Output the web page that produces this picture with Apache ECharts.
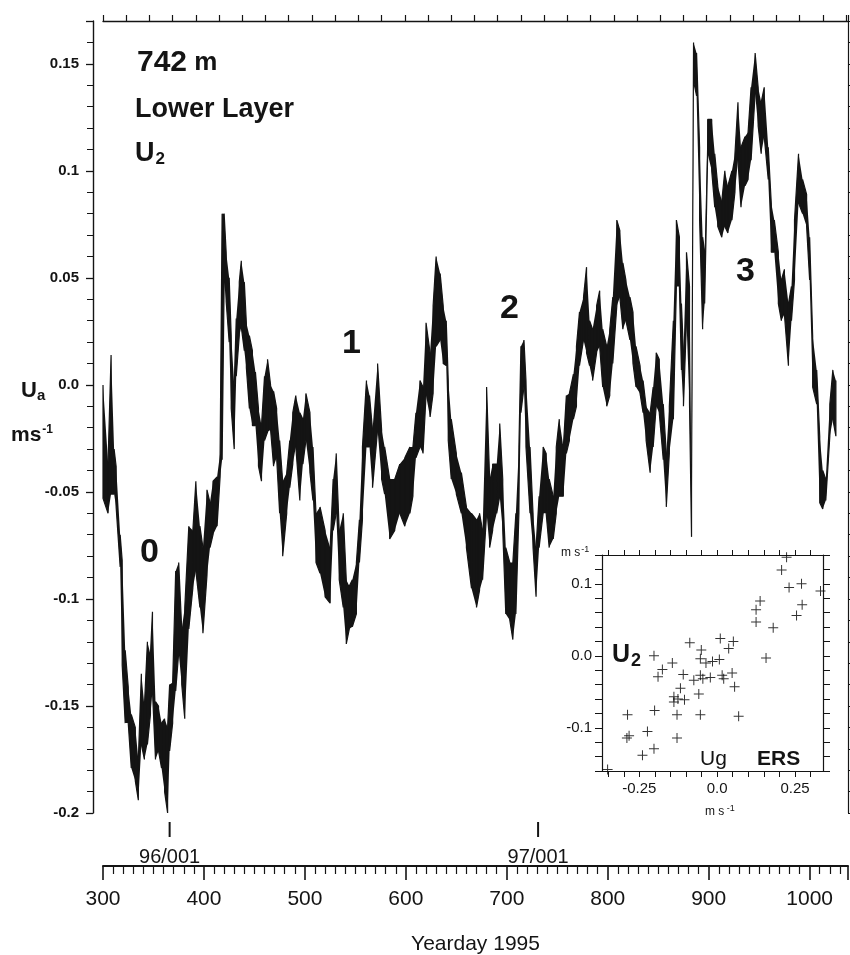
<!DOCTYPE html>
<html>
<head>
<meta charset="utf-8">
<script src="https://cdn.jsdelivr.net/npm/echarts@6.0.0/dist/echarts.min.js"></script>
<style>
  html, body { margin: 0; padding: 0; background: #fff; }
  #main { width: 850px; height: 955px; }
</style>
</head>
<body>
<div id="main"></div>
<script>
// yearday 1995 / band top and bottom of the U_a trace (m s-1)
var yearday = [300,305,308,311,313,317,319,322,325,328,332,335,338,341,344,347,349,352,355,358,
  361,364,366,369,372,375,378,381,385,389,392,396,399,403,406,409,413,416,418,420,
  422,425,427,430,432,435,437,440,442,445,448,451,454,457,460,463,466,469,472,475,
  478,482,485,488,491,495,498,501,505,508,511,515,520,525,528,531,534,538,541,544,
  547,551,554,557,561,564,567,572,576,579,584,589,594,599,604,607,610,614,617,620,
  624,627,630,634,637,640,642,645,650,655,660,665,670,673,676,680,683,686,690,693,
  696,699,703,706,709,712,714,717,719,723,726,729,732,736,739,742,746,749,752,756,
  759,762,766,769,772,776,779,782,785,789,792,795,799,802,805,809,812,815,818,822,
  825,828,832,835,838,842,845,848,851,855,858,861,865,868,871,873,875,878,881,883,
  885,888,891,894,896,899,903,906,909,913,916,919,923,926,929,932,936,939,942,946,
  949,952,955,959,962,965,969,972,975,979,982,985,989,993,997,1000,1003,1007,1010,1013,
  1016,1020,1023,1026];
var uaHigh = [0.0,-0.036,0.014,-0.03,-0.038,-0.07,-0.082,-0.124,-0.141,-0.154,-0.16,-0.175,-0.135,-0.15,-0.12,-0.126,-0.106,-0.148,-0.15,-0.158,
  -0.156,-0.16,-0.14,-0.139,-0.087,-0.083,-0.114,-0.104,-0.066,-0.068,-0.045,-0.066,-0.076,-0.049,-0.055,-0.045,-0.043,-0.032,0.08,0.08,
  0.062,0.05,0.023,0.0,0.031,0.048,0.058,0.048,0.029,0.023,0.016,0.006,-0.011,-0.019,0.004,0.012,0.0,-0.003,-0.011,-0.026,
  -0.045,-0.041,-0.026,-0.013,-0.005,-0.013,-0.016,-0.004,-0.013,-0.029,-0.06,-0.057,-0.068,-0.076,-0.044,-0.032,-0.068,-0.06,-0.091,-0.094,
  -0.091,-0.083,-0.063,-0.029,0.002,-0.005,-0.021,0.010,-0.021,-0.029,-0.044,-0.044,-0.037,-0.034,-0.029,-0.029,-0.013,0.002,-0.001,0.029,
  0.015,0.037,0.06,0.052,0.037,0.030,0.002,-0.016,-0.032,-0.041,-0.057,-0.06,-0.063,-0.06,-0.068,-0.001,-0.044,-0.037,-0.037,-0.018,
  -0.044,-0.076,-0.083,-0.083,-0.06,-0.029,0.018,0.021,0.002,-0.029,-0.06,-0.076,-0.052,-0.029,-0.032,-0.044,-0.052,-0.029,-0.016,-0.029,
  -0.005,-0.004,0.005,0.018,0.034,0.041,0.055,0.030,0.026,0.037,0.044,0.026,0.018,0.026,0.041,0.077,0.072,0.057,0.049,0.041,
  0.034,0.018,0.009,0.002,-0.010,-0.013,-0.001,0.015,0.012,-0.009,-0.032,-0.01,0.03,0.077,0.069,0.038,0.015,0.062,0.046,-0.048,
  0.16,0.155,0.111,0.069,0.062,0.124,0.124,0.108,0.093,0.086,0.100,0.093,0.100,0.108,0.132,0.111,0.116,0.118,0.139,0.155,
  0.139,0.132,0.139,0.111,0.085,0.077,0.062,0.049,0.054,0.038,0.046,0.077,0.108,0.096,0.089,0.069,0.023,0.007,-0.024,-0.04,
  -0.044,-0.009,0.007,0.002];
var uaLow = [-0.053,-0.06,-0.051,-0.051,-0.057,-0.085,-0.131,-0.158,-0.158,-0.179,-0.185,-0.194,-0.168,-0.175,-0.168,-0.154,-0.143,-0.175,-0.171,-0.179,
  -0.19,-0.20,-0.171,-0.158,-0.143,-0.125,-0.14,-0.156,-0.114,-0.095,-0.087,-0.104,-0.116,-0.089,-0.076,-0.07,-0.066,-0.043,-0.035,0.048,
  0.039,0.02,-0.011,-0.03,0.004,0.023,0.027,0.016,0.008,-0.011,-0.019,-0.019,-0.038,-0.045,-0.026,-0.022,-0.021,-0.038,-0.034,-0.06,
  -0.08,-0.06,-0.048,-0.037,-0.029,-0.054,-0.037,-0.026,-0.041,-0.054,-0.083,-0.088,-0.099,-0.102,-0.068,-0.06,-0.091,-0.104,-0.121,-0.114,
  -0.113,-0.107,-0.083,-0.063,-0.029,-0.029,-0.048,-0.021,-0.044,-0.051,-0.072,-0.068,-0.06,-0.066,-0.06,-0.052,-0.034,-0.029,-0.032,-0.005,
  -0.015,-0.004,0.018,0.021,0.010,0.009,-0.026,-0.044,-0.051,-0.06,-0.076,-0.095,-0.104,-0.096,-0.091,-0.06,-0.076,-0.068,-0.06,-0.052,
  -0.068,-0.107,-0.11,-0.119,-0.107,-0.06,-0.013,-0.001,-0.029,-0.06,-0.076,-0.099,-0.076,-0.06,-0.06,-0.076,-0.072,-0.06,-0.052,-0.052,
  -0.032,-0.026,-0.016,-0.01,0.009,0.021,0.015,0.009,0.002,0.015,0.018,-0.001,-0.010,-0.005,0.010,0.037,0.041,0.026,0.030,0.021,
  0.010,-0.001,-0.004,-0.013,-0.026,-0.041,-0.029,-0.010,-0.013,-0.035,-0.057,-0.032,-0.016,0.046,0.046,0.007,-0.01,0.030,-0.009,-0.071,
  0.142,0.135,0.077,0.026,0.038,0.108,0.100,0.083,0.074,0.069,0.074,0.071,0.077,0.090,0.105,0.083,0.093,0.096,0.105,0.136,
  0.121,0.108,0.116,0.096,0.062,0.062,0.038,0.030,0.033,0.009,0.030,0.049,0.085,0.080,0.074,0.049,-0.001,-0.009,-0.055,-0.058,
  -0.054,-0.024,-0.016,-0.024];

// inset: U2 against Ug (ERS), m s-1
var ugErs = [0.223,0.207,0.231,0.271,0.332,0.138,0.125,0.273,0.255,0.125,0.180,-0.088,0.010,0.052,0.037,-0.051,-0.203,0.157,-0.144,-0.054,
  -0.036,-0.015,0.007,-0.176,-0.190,-0.109,-0.075,-0.054,-0.046,-0.022,0.016,0.021,0.048,0.056,-0.118,-0.139,-0.126,-0.105,-0.059,-0.139,
  -0.288,-0.201,-0.129,-0.054,0.069,-0.283,-0.290,-0.224,-0.129,-0.240,-0.203,-0.352];
var u2Ers = [0.137,0.119,0.095,0.100,0.090,0.076,0.064,0.071,0.056,0.047,0.039,0.018,0.024,0.020,0.010,0.008,0.000,-0.003,-0.010,-0.004,
  -0.010,-0.008,-0.005,-0.019,-0.029,-0.026,-0.034,-0.027,-0.032,-0.030,-0.027,-0.032,-0.024,-0.043,-0.045,-0.057,-0.060,-0.061,-0.053,-0.064,
  -0.082,-0.076,-0.082,-0.082,-0.084,-0.111,-0.114,-0.105,-0.114,-0.138,-0.129,-0.158];

var insetXTicks = [-0.35,-0.3,-0.25,-0.2,-0.15,-0.1,-0.05,0,0.05,0.1,0.15,0.2,0.25,0.3];
var insetXLabels = [-0.25, 0, 0.25];
var dateMarks = [[366, '96/001'], [731, '97/001']];

// trace: vertical stroke at each reading, alternating top/bottom
var trace = [];
for (var i = 0; i < yearday.length; i++) {
  if (i % 2 == 0) {
    trace.push([yearday[i], uaHigh[i]]);
    trace.push([yearday[i], uaLow[i]]);
  } else {
    trace.push([yearday[i], uaLow[i]]);
    trace.push([yearday[i], uaHigh[i]]);
  }
}
var scatterData = [];
for (var j = 0; j < ugErs.length; j++) scatterData.push([ugErs[j], u2Ers[j]]);

var ink = '#141414';
var font = 'Liberation Sans';
var plus = 'path://M-0.1,-1H0.1V-0.1H1V0.1H0.1V1H-0.1V0.1H-1V-0.1H-0.1Z';

function fmt0(v) {
  if (Math.abs(v) < 1e-9) return '0.0';
  return String(+v.toFixed(3));
}

// filled band between top and bottom readings
function renderBand(params, api) {
  var pts = [];
  for (var k = 0; k < yearday.length; k++) pts.push(api.coord([yearday[k], uaHigh[k]]));
  for (var k2 = yearday.length - 1; k2 >= 0; k2--) pts.push(api.coord([yearday[k2], uaLow[k2]]));
  return { type: 'polygon', shape: { points: pts }, style: { fill: ink } };
}

var chart = echarts.init(document.getElementById('main'));
var option = {
  animation: false,
  backgroundColor: '#fff',
  grid: [
    { left: 103, right: 2, top: 21, height: 792, containLabel: false, outerBoundsMode: 'none' },
    { left: 602, top: 555, width: 221, height: 216, containLabel: false, outerBoundsMode: 'none',
      backgroundColor: '#fff', show: true, borderWidth: 0 }
  ],
  xAxis: [
    { type: 'value', gridIndex: 0, min: 300, max: 1038, interval: 100, position: 'bottom', offset: 53,
      axisLine: { show: true, onZero: false, lineStyle: { color: ink, width: 2 } },
      axisTick: { show: true, inside: false, length: 14, lineStyle: { color: ink, width: 1.6 } },
      minorTick: { show: true, splitNumber: 10, length: 8, lineStyle: { color: ink, width: 1.2 } },
      axisLabel: { show: true, margin: 23, fontSize: 21, fontFamily: font, color: ink,
        formatter: function (v) { return String(v); } },
      splitLine: { show: false }, minorSplitLine: { show: false },
      name: 'Yearday 1995', nameLocation: 'middle', nameGap: 68,
      nameTextStyle: { fontSize: 21, fontFamily: font, color: ink } },
    { type: 'value', gridIndex: 0, min: 299, max: 1037, interval: 23, position: 'top',
      axisLine: { show: true, onZero: false, lineStyle: { color: ink, width: 1.3 } },
      axisTick: { show: true, inside: false, length: 6, lineStyle: { color: ink, width: 1.2 } },
      axisLabel: { show: false }, splitLine: { show: false } },
    { type: 'value', gridIndex: 1, min: -0.37, max: 0.34, position: 'bottom',
      axisLine: { show: true, onZero: false, lineStyle: { color: ink, width: 1.2 } },
      axisTick: { show: true, inside: false, length: 6, customValues: insetXTicks, lineStyle: { color: ink, width: 1 } },
      axisLabel: { show: true, customValues: insetXLabels, margin: 10, fontSize: 15, fontFamily: font, color: ink, formatter: fmt0 },
      splitLine: { show: false } },
    { type: 'value', gridIndex: 1, min: -0.37, max: 0.34, position: 'top',
      axisLine: { show: true, onZero: false, lineStyle: { color: ink, width: 1.2 } },
      axisTick: { show: true, inside: false, length: 5, customValues: insetXTicks, lineStyle: { color: ink, width: 1 } },
      axisLabel: { show: false }, splitLine: { show: false } }
  ],
  yAxis: [
    { type: 'value', gridIndex: 0, min: -0.2, max: 0.17, interval: 0.05, position: 'left', offset: 10,
      axisLine: { show: true, onZero: false, lineStyle: { color: ink, width: 1.4 } },
      axisTick: { show: true, inside: false, length: 7, lineStyle: { color: ink, width: 1.3 } },
      minorTick: { show: true, splitNumber: 5, length: 6, lineStyle: { color: ink, width: 1 } },
      axisLabel: { show: true, showMaxLabel: false, margin: 14, fontSize: 15, fontWeight: 'bold', fontFamily: font, color: ink,
        formatter: function (v) { return v > 0.16 ? '' : fmt0(v); } },
      splitLine: { show: false }, minorSplitLine: { show: false } },
    { type: 'value', gridIndex: 0, min: -0.2, max: 0.17, interval: 0.01, position: 'right',
      axisLine: { show: true, onZero: false, lineStyle: { color: ink, width: 1.2 } },
      axisTick: { show: true, inside: false, length: 4, lineStyle: { color: ink, width: 1 } },
      axisLabel: { show: false }, splitLine: { show: false } },
    { type: 'value', gridIndex: 1, min: -0.16, max: 0.14, interval: 0.02, position: 'left',
      axisLine: { show: true, onZero: false, lineStyle: { color: ink, width: 1.2 } },
      axisTick: { show: true, inside: false, length: 7, lineStyle: { color: ink, width: 1 } },
      axisLabel: { show: true, interval: 0, margin: 10, fontSize: 15, fontFamily: font, color: ink,
        formatter: function (v) {
          var r = Math.round(v * 100);
          if (r == 10 || r == 0 || r == -10) return fmt0(r / 100);
          return '';
        } },
      splitLine: { show: false } },
    { type: 'value', gridIndex: 1, min: -0.16, max: 0.14, interval: 0.02, position: 'right',
      axisLine: { show: true, onZero: false, lineStyle: { color: ink, width: 1.2 } },
      axisTick: { show: true, inside: false, length: 7, lineStyle: { color: ink, width: 1 } },
      axisLabel: { show: false }, splitLine: { show: false } }
  ],
  series: [
    { type: 'custom', coordinateSystem: 'cartesian2d', xAxisIndex: 0, yAxisIndex: 0, data: [[300, 0]],
      renderItem: renderBand, silent: true },
    { type: 'line', xAxisIndex: 0, yAxisIndex: 0, data: trace, showSymbol: false, symbol: 'none',
      lineStyle: { color: ink, width: 1.2 }, silent: true },
    { type: 'scatter', xAxisIndex: 2, yAxisIndex: 2, data: scatterData, symbol: plus, symbolSize: 10,
      itemStyle: { color: '#000' }, silent: true }
  ]
};
chart.setOption(option);

// text annotations and date markers
var graphics = [
  { type: 'text', left: 137, top: 48, style: { text: '{a|742}{m| m}', rich: {
      a: { fontSize: 30, fontWeight: 'bold', fontFamily: font, fill: ink },
      m: { fontSize: 26, fontWeight: 'bold', fontFamily: font, fill: ink } } } },
  { type: 'text', left: 135, top: 96, style: { text: 'Lower Layer', fontSize: 27, fontWeight: 'bold', fontFamily: font, fill: ink } },
  { type: 'text', left: 135, top: 140, style: { text: '{u|U}{s|2}', rich: {
      u: { fontSize: 27, fontWeight: 'bold', fontFamily: font, fill: ink },
      s: { fontSize: 17, fontWeight: 'bold', fontFamily: font, fill: ink, verticalAlign: 'bottom', padding: [12, 0, 0, 1] } } } },
  { type: 'text', left: 21, top: 380, style: { text: '{u|U}{s|a}', rich: {
      u: { fontSize: 22, fontWeight: 'bold', fontFamily: font, fill: ink },
      s: { fontSize: 15, fontWeight: 'bold', fontFamily: font, fill: ink, padding: [10, 0, 0, 0] } } } },
  { type: 'text', left: 11, top: 424, style: { text: '{m|ms}{e|-1}', rich: {
      m: { fontSize: 21, fontWeight: 'bold', fontFamily: font, fill: ink },
      e: { fontSize: 12, fontWeight: 'bold', fontFamily: font, fill: ink, padding: [0, 0, 10, 1] } } } },
  { type: 'text', left: 140, top: 536, style: { text: '0', fontSize: 34, fontWeight: 'bold', fontFamily: font, fill: ink } },
  { type: 'text', left: 342, top: 327, style: { text: '1', fontSize: 34, fontWeight: 'bold', fontFamily: font, fill: ink } },
  { type: 'text', left: 500, top: 292, style: { text: '2', fontSize: 34, fontWeight: 'bold', fontFamily: font, fill: ink } },
  { type: 'text', left: 736, top: 255, style: { text: '3', fontSize: 34, fontWeight: 'bold', fontFamily: font, fill: ink } },
  // inset texts
  { type: 'text', left: 561, top: 545, style: { text: '{m|m s}{e|-1}', rich: {
      m: { fontSize: 12, fontFamily: font, fill: ink },
      e: { fontSize: 9, fontFamily: font, fill: ink, padding: [0, 0, 6, 1] } } } },
  { type: 'text', left: 612, top: 643, style: { text: '{u|U}{s|2}', rich: {
      u: { fontSize: 25, fontWeight: 'bold', fontFamily: font, fill: ink },
      s: { fontSize: 18, fontWeight: 'bold', fontFamily: font, fill: ink, padding: [12, 0, 0, 1] } } } },
  { type: 'text', left: 700, top: 749, style: { text: 'Ug', fontSize: 21, fontFamily: font, fill: ink } },
  { type: 'text', left: 757, top: 749, style: { text: 'ERS', fontSize: 21, fontWeight: 'bold', fontFamily: font, fill: ink } },
  { type: 'text', left: 705, top: 804, style: { text: '{m|m s}{e| -1}', rich: {
      m: { fontSize: 12, fontFamily: font, fill: ink },
      e: { fontSize: 9, fontFamily: font, fill: ink, padding: [0, 0, 6, 0] } } } }
];
dateMarks.forEach(function (d) {
  var px = chart.convertToPixel({ xAxisIndex: 0 }, d[0]);
  graphics.push({ type: 'line', shape: { x1: px, y1: 822, x2: px, y2: 837 }, style: { stroke: ink, lineWidth: 2 } });
  graphics.push({ type: 'text', x: px, y: 857, style: { text: d[1], fontSize: 20, fontFamily: font, fill: ink,
    textAlign: 'center', textVerticalAlign: 'middle' } });
});
chart.setOption({ graphic: graphics });
</script>
</body>
</html>
